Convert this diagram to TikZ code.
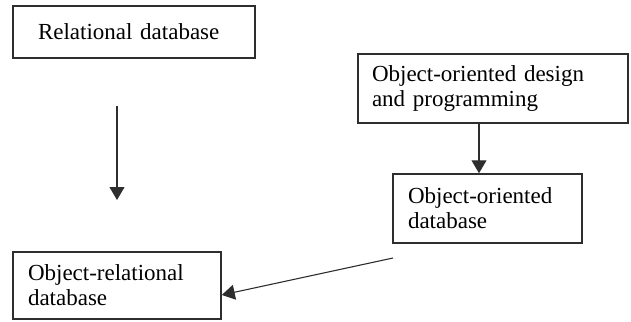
\documentclass[tikz,border=0pt]{standalone}
\usepackage{fontspec}
\setmainfont{Liberation Serif}
\usepackage{tikz}
\usetikzlibrary{arrows.meta, positioning}
\definecolor{inkgray}{HTML}{2E2E2E}

\begin{document}
\begin{tikzpicture}[x=0.5pt, y=-0.5pt, >={Triangle[width=7.5pt, length=6.5pt]},
    every node/.style={font=\fontsize{11.5}{12.5}\selectfont, text=black},
    dbbox/.style={draw=inkgray, line width=0.75pt, align=left, inner ysep=2pt},
    arr/.style={->, draw=inkgray, line width=0.55pt}]
        \useasboundingbox (0, 0) rectangle (631, 321);

        % Boxes
        \node[dbbox, minimum width=121pt, minimum height=26pt, inner xsep=12.5pt, text width=96pt] (rdb) at (134, 32) {Relational database};
        \node[dbbox, minimum width=135pt, minimum height=34.5pt, inner xsep=7pt, text width=121pt] (oodp) at (493, 88.5) {Object-oriented design\\and programming};
        \node[dbbox, minimum width=94.5pt, minimum height=34.5pt, inner xsep=7.5pt, text width=79.5pt] (oodb) at (487.5, 208.5) {Object-oriented\\database\\[2pt]};
        \node[dbbox, minimum width=104pt, minimum height=33.5pt, inner xsep=7.5pt, text width=89pt] (ordb) at (117, 285.5) {Object-relational\\database};

        % Free ends
        \coordinate (rdbTop) at (117, 106);
        \coordinate (rdbTip) at (117, 200);
        \coordinate (oodbOut) at (393, 258);

        % Arrows
        \draw[arr] (rdbTop) -- (rdbTip);
        \draw[arr] ([xshift=-7pt]oodp.south) -- ([xshift=-7pt]oodp.south |- oodb.north);
        \draw[arr] (oodbOut) -- ([yshift=-4.75pt]ordb.east);
    \end{tikzpicture}
\end{document}
